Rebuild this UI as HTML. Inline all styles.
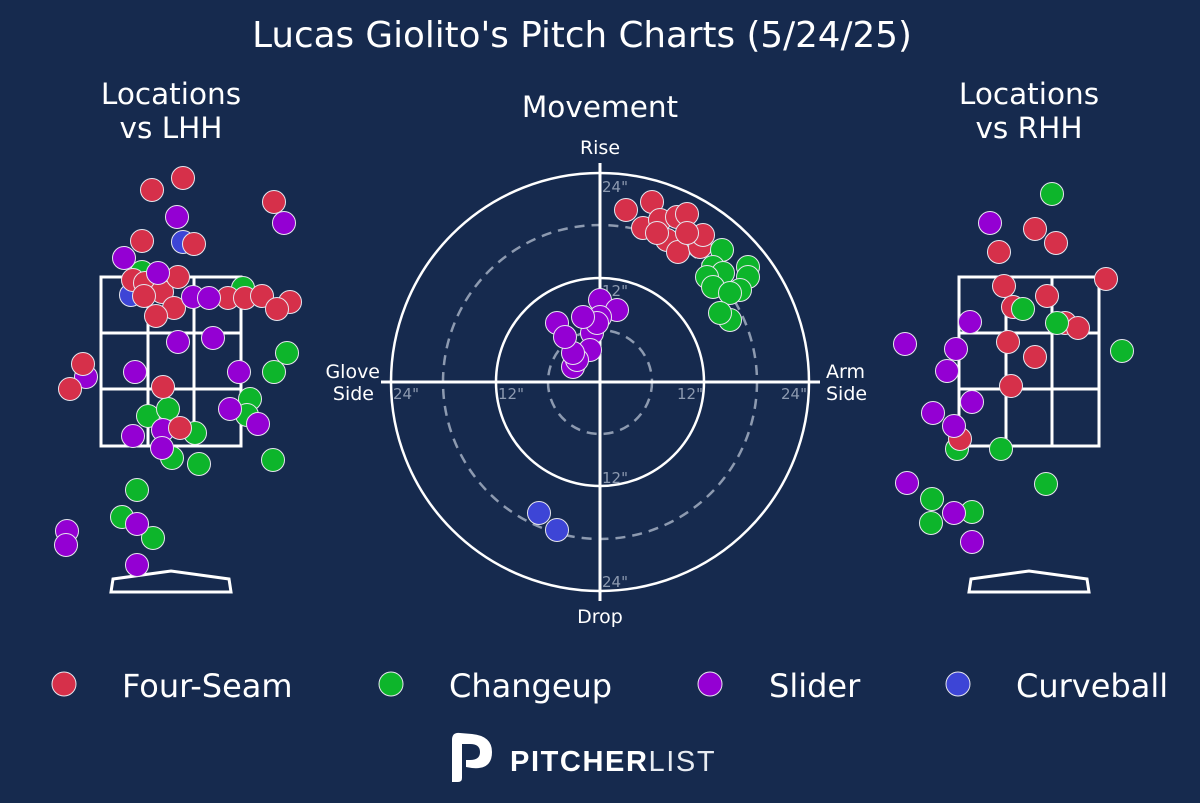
<!DOCTYPE html>
<html><head><meta charset="utf-8"><style>
html,body{margin:0;padding:0;background:#162a4e;}
svg{display:block;font-family:"DejaVu Sans","Liberation Sans",sans-serif;}
</style></head><body>
<svg width="1200" height="803" viewBox="0 0 1200 803" xmlns="http://www.w3.org/2000/svg">
<rect width="1200" height="803" fill="#162a4e"/>
<text x="582" y="47" fill="#fff" font-size="35.7" text-anchor="middle">Lucas Giolito's Pitch Charts (5/24/25)</text>
<text x="171" y="104" fill="#fff" font-size="29.5" text-anchor="middle">Locations</text>
<text x="171" y="138" fill="#fff" font-size="29.5" text-anchor="middle">vs LHH</text>
<text x="600" y="117" fill="#fff" font-size="29.5" text-anchor="middle">Movement</text>
<text x="1029" y="104" fill="#fff" font-size="29.5" text-anchor="middle">Locations</text>
<text x="1029" y="138" fill="#fff" font-size="29.5" text-anchor="middle">vs RHH</text>

<g stroke="#fff" stroke-width="3" fill="none">
<rect x="101" y="277" width="140" height="169"/>
<line x1="148" y1="277" x2="148" y2="446"/><line x1="194" y1="277" x2="194" y2="446"/>
<line x1="101" y1="333" x2="241" y2="333"/><line x1="101" y1="389" x2="241" y2="389"/>
<path d="M111 592 L113 579 L171 571 L229 579 L231 592 Z"/>
<rect x="959" y="277" width="140" height="169"/>
<line x1="1006" y1="277" x2="1006" y2="446"/><line x1="1052" y1="277" x2="1052" y2="446"/>
<line x1="959" y1="333" x2="1099" y2="333"/><line x1="959" y1="389" x2="1099" y2="389"/>
<path d="M969 592 L971 579 L1029 571 L1087 579 L1089 592 Z"/>
</g>

<g fill="none" stroke-width="2.5">
<circle cx="600" cy="382" r="209" stroke="#fff"/>
<circle cx="600" cy="382" r="104" stroke="#fff"/>
<circle cx="600" cy="382" r="157" stroke="#8d9ab0" stroke-dasharray="10,7"/>
<circle cx="600" cy="382" r="52" stroke="#8d9ab0" stroke-dasharray="10,7"/>
<line x1="600" y1="163" x2="600" y2="601" stroke="#fff" stroke-width="3"/>
<line x1="381" y1="382" x2="820" y2="382" stroke="#fff" stroke-width="3"/>
</g>
<g fill="#8d9ab0" font-size="15">
<text x="602" y="192">24"</text><text x="602" y="296">12"</text>
<text x="602" y="483">12"</text><text x="602" y="587">24"</text>
<text x="393" y="399">24"</text><text x="498" y="399">12"</text>
<text x="677" y="399">12"</text><text x="781" y="399">24"</text>
</g>
<g fill="#fff" font-size="19">
<text x="600" y="154" text-anchor="middle">Rise</text>
<text x="600" y="623" text-anchor="middle">Drop</text>
<text x="380" y="378" text-anchor="end">Glove</text>
<text x="374" y="400" text-anchor="end">Side</text>
<text x="826" y="378">Arm</text>
<text x="826" y="400">Side</text>
</g>

<g stroke="#e6e6ee" stroke-width="1" >
<g fill="#0db52b">
<circle cx="142" cy="272" r="11.5"/><circle cx="243" cy="288" r="11.5"/><circle cx="287" cy="353" r="11.5"/><circle cx="274" cy="372" r="11.5"/><circle cx="250" cy="399" r="11.5"/><circle cx="247" cy="415" r="11.5"/><circle cx="148" cy="416" r="11.5"/><circle cx="168" cy="409" r="11.5"/><circle cx="195" cy="433" r="11.5"/><circle cx="172" cy="458" r="11.5"/><circle cx="199" cy="464" r="11.5"/><circle cx="273" cy="460" r="11.5"/><circle cx="137" cy="490" r="11.5"/><circle cx="122" cy="517" r="11.5"/><circle cx="153" cy="538" r="11.5"/>
</g>
<g fill="#3d45d6"><circle cx="183" cy="242" r="11.5"/><circle cx="131" cy="295" r="11.5"/></g>
<g fill="#9400d3">
<circle cx="177" cy="217" r="11.5"/><circle cx="284" cy="223" r="11.5"/><circle cx="124" cy="258" r="11.5"/><circle cx="178" cy="342" r="11.5"/><circle cx="213" cy="338" r="11.5"/><circle cx="135" cy="372" r="11.5"/><circle cx="239" cy="372" r="11.5"/><circle cx="86" cy="377" r="11.5"/><circle cx="230" cy="409" r="11.5"/><circle cx="258" cy="424" r="11.5"/><circle cx="133" cy="436" r="11.5"/><circle cx="163" cy="430" r="11.5"/><circle cx="162" cy="448" r="11.5"/><circle cx="67" cy="531" r="11.5"/><circle cx="66" cy="545" r="11.5"/><circle cx="137" cy="524" r="11.5"/><circle cx="137" cy="565" r="11.5"/>
</g>
<g fill="#d6304a">
<circle cx="152" cy="190" r="11.5"/><circle cx="183" cy="178" r="11.5"/><circle cx="274" cy="202" r="11.5"/><circle cx="142" cy="241" r="11.5"/><circle cx="194" cy="244" r="11.5"/><circle cx="133" cy="280" r="11.5"/><circle cx="145" cy="283" r="11.5"/><circle cx="162" cy="292" r="11.5"/><circle cx="178" cy="277" r="11.5"/><circle cx="144" cy="296" r="11.5"/><circle cx="174" cy="308" r="11.5"/><circle cx="156" cy="316" r="11.5"/><circle cx="228" cy="298" r="11.5"/><circle cx="245" cy="298" r="11.5"/><circle cx="262" cy="296" r="11.5"/><circle cx="290" cy="302" r="11.5"/><circle cx="277" cy="309" r="11.5"/><circle cx="83" cy="364" r="11.5"/><circle cx="70" cy="389" r="11.5"/><circle cx="163" cy="387" r="11.5"/><circle cx="180" cy="428" r="11.5"/>
</g>
<g fill="#9400d3"><circle cx="158" cy="273" r="11.5"/><circle cx="193" cy="297" r="11.5"/><circle cx="209" cy="298" r="11.5"/></g>

<g fill="#0db52b">
<circle cx="1052" cy="194" r="11.5"/><circle cx="1122" cy="351" r="11.5"/><circle cx="957" cy="449" r="11.5"/><circle cx="1001" cy="449" r="11.5"/><circle cx="1046" cy="484" r="11.5"/><circle cx="932" cy="499" r="11.5"/><circle cx="972" cy="512" r="11.5"/><circle cx="931" cy="523" r="11.5"/>
</g>
<g fill="#d6304a">
<circle cx="1035" cy="229" r="11.5"/><circle cx="1056" cy="243" r="11.5"/><circle cx="999" cy="252" r="11.5"/><circle cx="1106" cy="279" r="11.5"/><circle cx="1004" cy="286" r="11.5"/><circle cx="1013" cy="307" r="11.5"/><circle cx="1047" cy="296" r="11.5"/><circle cx="1065" cy="323" r="11.5"/><circle cx="1078" cy="328" r="11.5"/><circle cx="1008" cy="342" r="11.5"/><circle cx="1035" cy="357" r="11.5"/><circle cx="1011" cy="386" r="11.5"/><circle cx="960" cy="439" r="11.5"/>
</g>
<g fill="#0db52b"><circle cx="1023" cy="309" r="11.5"/><circle cx="1057" cy="323" r="11.5"/></g>
<g fill="#9400d3">
<circle cx="990" cy="223" r="11.5"/><circle cx="970" cy="322" r="11.5"/><circle cx="905" cy="344" r="11.5"/><circle cx="956" cy="349" r="11.5"/><circle cx="947" cy="371" r="11.5"/><circle cx="972" cy="402" r="11.5"/><circle cx="933" cy="413" r="11.5"/><circle cx="954" cy="426" r="11.5"/><circle cx="907" cy="483" r="11.5"/><circle cx="954" cy="513" r="11.5"/><circle cx="972" cy="542" r="11.5"/>
</g>

<g fill="#d6304a">
<circle cx="626" cy="210" r="11.5"/><circle cx="652" cy="202" r="11.5"/><circle cx="643" cy="228" r="11.5"/><circle cx="660" cy="220" r="11.5"/><circle cx="677" cy="217" r="11.5"/><circle cx="687" cy="214" r="11.5"/><circle cx="667" cy="240" r="11.5"/><circle cx="657" cy="233" r="11.5"/><circle cx="678" cy="252" r="11.5"/><circle cx="700" cy="247" r="11.5"/><circle cx="703" cy="235" r="11.5"/><circle cx="687" cy="233" r="11.5"/>
</g>
<g fill="#0db52b">
<circle cx="722" cy="250" r="11.5"/><circle cx="748" cy="267" r="11.5"/><circle cx="748" cy="277" r="11.5"/><circle cx="713" cy="267" r="11.5"/><circle cx="723" cy="273" r="11.5"/><circle cx="707" cy="277" r="11.5"/><circle cx="713" cy="287" r="11.5"/><circle cx="740" cy="290" r="11.5"/><circle cx="730" cy="293" r="11.5"/><circle cx="730" cy="320" r="11.5"/><circle cx="720" cy="313" r="11.5"/>
</g>
<g fill="#9400d3">
<circle cx="600" cy="300" r="11.5"/><circle cx="617" cy="310" r="11.5"/><circle cx="557" cy="323" r="11.5"/><circle cx="600" cy="317" r="11.5"/><circle cx="592" cy="333" r="11.5"/><circle cx="590" cy="350" r="11.5"/><circle cx="573" cy="367" r="11.5"/><circle cx="577" cy="360" r="11.5"/><circle cx="573" cy="353" r="11.5"/><circle cx="565" cy="337" r="11.5"/><circle cx="597" cy="323" r="11.5"/><circle cx="583" cy="317" r="11.5"/>
</g>
<g fill="#3d45d6"><circle cx="539" cy="513" r="11.5"/><circle cx="557" cy="530" r="11.5"/></g>

<circle cx="64" cy="684" r="12" fill="#d6304a"/>
<circle cx="391" cy="684" r="12" fill="#0db52b"/>
<circle cx="710" cy="684" r="12" fill="#9400d3"/>
<circle cx="958" cy="684" r="12" fill="#3d45d6"/>
</g>
<g fill="#fff" font-size="32">
<text x="122" y="697">Four-Seam</text>
<text x="449" y="697">Changeup</text>
<text x="769" y="697">Slider</text>
<text x="1016" y="697">Curveball</text>
</g>

<path d="M452 740 Q452 732 460 733 L472 734 Q492 736 492 752 Q492 770 472 768 L466 767 L466 760 L470 760 Q480 760 480 752 Q480 744 470 744 L462 744 L462 778 Q462 782 458 782 L452 782 Z" fill="#fff"/>
<text x="510" y="771" fill="#fff" font-size="29" font-weight="bold" letter-spacing="1.6" font-family="'Liberation Sans',sans-serif">PITCHER<tspan font-weight="normal" fill="#e8ecf2">LIST</tspan></text>
</svg>
</body></html>
